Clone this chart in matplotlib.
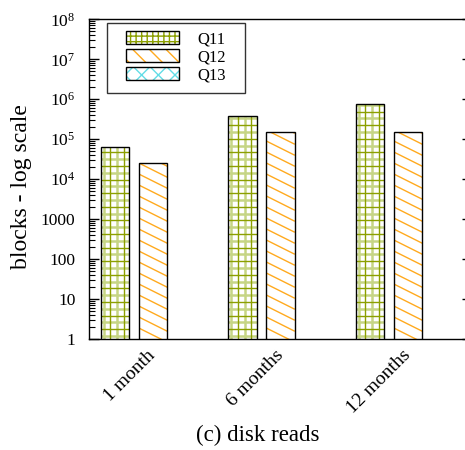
"""
Disk reads per query, log scale bar chart (gnuplot-like look).
"""

import numpy as np
import matplotlib
matplotlib.use("Agg")
import matplotlib.pyplot as plt
import matplotlib.patches as patches
from matplotlib.collections import LineCollection
from matplotlib.transforms import IdentityTransform
from matplotlib.ticker import LogLocator, NullFormatter, FuncFormatter
from matplotlib.legend_handler import HandlerTuple

# --- Data ---
periods = ["1 month", "6 months", "12 months"]
series_names = ["Q11", "Q12", "Q13"]
q11 = [65000, 380000, 760000]
q12 = [25000, 148000, 148000]
q13 = [np.nan, np.nan, np.nan]  # no disk reads recorded

# --- Style ---
plt.rcParams["font.family"] = ["Liberation Serif", "DejaVu Serif"]
plt.rcParams["mathtext.fontset"] = "custom"
plt.rcParams["mathtext.rm"] = "Liberation Serif"
plt.rcParams["mathtext.it"] = "Liberation Serif:italic"
plt.rcParams["hatch.linewidth"] = 1.0

GREEN_DARK = "#8c9f00"
GREEN_LIGHT = "#c6d585"
ORANGE = "#ffaa1e"
CYAN = "#62dce6"

W, H, DPI = 465, 450, 100
fig = plt.figure(figsize=(W / DPI, H / DPI), dpi=DPI)
# axes in pixel terms: left 89.3, bottom spine at y=339, top at 19.3
ax = fig.add_axes([89.3 / W, (H - 339) / H, 382.5 / W, (339 - 19.3) / H])

ax.set_yscale("log")
ax.set_ylim(1, 1e8)
ax.set_xlim(-0.5, 2.5)

x = np.arange(len(periods))
pitch = 0.3
width = 0.224
values = [q11, q12, q13]

bars = []
for i, vals in enumerate(values):
    b = ax.bar(x + (i - 1) * pitch, vals, width, facecolor="none",
               edgecolor="black", linewidth=1.0, zorder=3)
    bars.append(b)


def bar_pixels(rect):
    ylo = max(rect.get_y(), ax.get_ylim()[0])
    (x0, y0), (x1, y1) = ax.transData.transform(
        [(rect.get_x(), ylo), (rect.get_x() + rect.get_width(), rect.get_y() + rect.get_height())])
    return x0, y0, x1, y1


def add_clipped(box, segs, color, lw):
    x0, y0, x1, y1 = box
    clip = patches.Rectangle((x0, y0), x1 - x0, y1 - y0, transform=IdentityTransform())
    lc = LineCollection(segs, colors=color, linewidths=lw, transform=IdentityTransform(), zorder=2.5)
    ax.add_collection(lc)
    lc.set_clip_path(clip)


# Q11: double grid pattern (dark and light lines alternating)
for rect in bars[0]:
    box = bar_pixels(rect)
    x0, y0, x1, y1 = box
    if not np.isfinite(y1):
        continue
    step = 6.8
    for k, color, lw in [(0, GREEN_LIGHT, 1.8), (1, GREEN_DARK, 1.0)]:
        xs = np.arange(x0 + 3 + k * step, x1, 2 * step)
        ys = np.arange(y0 + 3 + k * step, y1, 2 * step)
        segs = [[(xv, y0), (xv, y1)] for xv in xs] + [[(x0, yv), (x1, yv)] for yv in ys]
        add_clipped(box, segs, color, lw)

# Q12: shallow diagonal lines going down to the right
for rect in bars[1]:
    box = bar_pixels(rect)
    x0, y0, x1, y1 = box
    if not np.isfinite(y1):
        continue
    slope, gap = 0.5, 11.0
    w = x1 - x0
    cs = np.arange(y0, y1 + slope * w + gap, gap)
    segs = [[(x0, c), (x1, c - slope * w)] for c in cs]
    add_clipped(box, segs, ORANGE, 1.0)

# --- Axes ---
ax.yaxis.set_major_locator(LogLocator(base=10, numticks=12))
ax.yaxis.set_minor_locator(LogLocator(base=10, subs=np.arange(2, 10), numticks=12))
ax.yaxis.set_minor_formatter(NullFormatter())
ax.yaxis.set_major_formatter(FuncFormatter(
    lambda v, _: f"{int(round(v))}" if v <= 1000 else r"$10^{%d}$" % int(round(np.log10(v)))))
ax.tick_params(axis="y", which="major", direction="in", length=7, width=1,
               left=True, right=True, labelsize=12.5, pad=10)
ax.tick_params(axis="y", which="minor", direction="in", length=4, width=0.8,
               left=True, right=False)
ax.tick_params(axis="x", which="both", length=0, pad=10)

ax.set_xticks(x)
ax.set_xticklabels(periods, rotation=45, ha="right", va="center",
                   rotation_mode="anchor", fontsize=14)
for s in ax.spines.values():
    s.set_linewidth(1.0)

fig.text(22 / W, 1 - 187 / H, "blocks - log scale", rotation=90,
         ha="center", va="center", fontsize=17)
fig.text(258 / W, 1 - 435 / H, "(c) disk reads", ha="center", va="center", fontsize=16.5)

# --- Legend ---
frame = patches.Rectangle((107 / W, 1 - 93 / H), 138 / W, 70 / H, transform=fig.transFigure,
                          facecolor="white", edgecolor="#333333", linewidth=1.0, zorder=5)
fig.add_artist(frame)

hatch_specs = [("+++", GREEN_DARK), ("\\\\", ORANGE), ("xx", CYAN)]
handles = []
for hatch, color in hatch_specs:
    fill = patches.Patch(facecolor="white", edgecolor=color, hatch=hatch, linewidth=0)
    edge = patches.Patch(facecolor="none", edgecolor="black", linewidth=1.0)
    handles.append((fill, edge))

leg = fig.legend(handles, series_names, loc="upper left",
                 bbox_to_anchor=(126 / W, 1 - 31 / H), frameon=False,
                 handler_map={tuple: HandlerTuple(ndivide=1, pad=0)},
                 fontsize=12, handlelength=3.2, handleheight=0.78,
                 handletextpad=1.1, labelspacing=0.12, borderpad=0, borderaxespad=0)
leg.set_zorder(6)

fig.savefig("out.png", dpi=DPI)
plt.close(fig)
